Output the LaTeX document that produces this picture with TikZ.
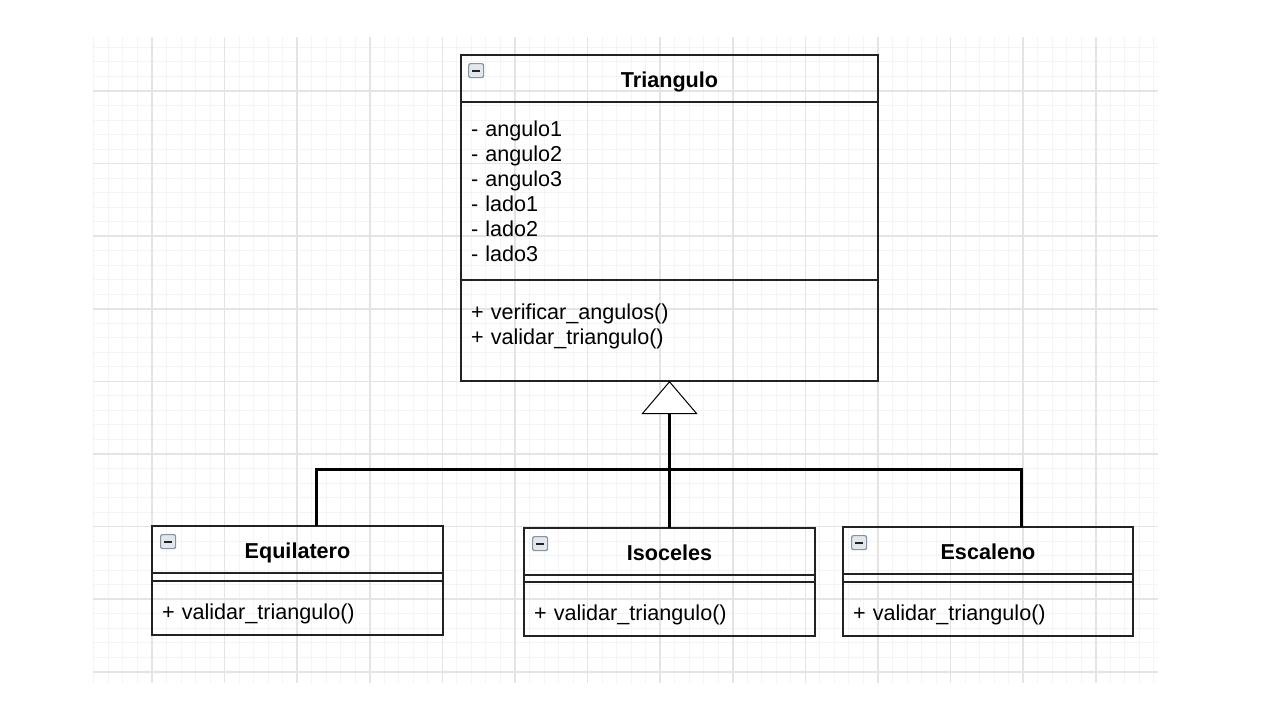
\documentclass[tikz,border=0pt]{standalone}
\usepackage{fontspec}
\setmainfont{Liberation Sans}
\usepackage{tikz}
\usetikzlibrary{positioning,arrows.meta}
\definecolor{gridminor}{HTML}{F4F4F4}
\definecolor{gridmajor}{HTML}{E4E4E4}
\definecolor{umlline}{HTML}{222222}
\definecolor{iconfill}{HTML}{E2E7EE}
\definecolor{iconline}{HTML}{8592A0}

\begin{document}
\begin{tikzpicture}[x=1pt, y=-1pt, node distance=0pt, font=\fontsize{21.6}{25}\selectfont,
  head/.style={rectangle, draw=umlline, line width=2pt, outer sep=0pt, inner sep=0pt, minimum height=47pt, anchor=north west, text height=22pt, text depth=4pt, font=\fontsize{21.6}{25}\selectfont\bfseries},
  sect/.style={rectangle, draw=umlline, line width=2pt, outer sep=0pt, inner xsep=10pt, inner ysep=0pt, align=left},
  wide/.style={minimum width=417pt, text width=397pt},
  narrow/.style={minimum width=291pt, text width=271pt},
  icon/.style={rectangle, rounded corners=2pt, draw=iconline, fill=iconfill, line width=1.2pt, inner sep=0pt, minimum width=15pt, minimum height=14pt, anchor=north west,
    path picture={\draw[umlline, line width=2pt] ([xshift=3.5pt]path picture bounding box.west) -- ([xshift=-3.5pt]path picture bounding box.east);}},
  link/.style={draw=black, line width=3pt},
  gen/.style={link, -{Triangle[fill=white, length=33pt, width=56pt, line width=1pt]}}]

  \useasboundingbox[fill=white] (0,0) rectangle (1280,720);

  % grid
  \begin{scope}
    \clip (93,37) rectangle (1158,683);
    \foreach \i in {0,...,75} \draw[gridminor, line width=1pt] ({79.4+\i*14.52},37) -- ({79.4+\i*14.52},683);
    \foreach \i in {0,...,46} \draw[gridminor, line width=1pt] (93,{18.4+\i*14.52}) -- (1158,{18.4+\i*14.52});
    \foreach \j in {0,...,15} \draw[gridmajor, line width=1.5pt] ({79.4+\j*72.6},37) -- ({79.4+\j*72.6},683);
    \foreach \j in {0,...,9} \draw[gridmajor, line width=1.5pt] (93,{18.4+\j*72.6}) -- (1158,{18.4+\j*72.6});
  \end{scope}

  % superclass
  \node[head, minimum width=417pt] (tri) at (461,55) {Triangulo};
  \node[icon] (tri-icon) at ([shift={(7,8)}]tri.north west) {};
  \node[sect, wide, minimum height=178pt, below=of tri] (tri-attr) {- angulo1\\- angulo2\\- angulo3\\- lado1\\- lado2\\- lado3};
  \node[sect, wide, minimum height=101pt, text depth=38pt, below=of tri-attr] (tri-meth) {+ verificar\_angulos()\\+ validar\_triangulo()};

  % subclasses
  \node[head, minimum width=291pt] (equi) at (152,526) {Equilatero};
  \node[icon] (equi-icon) at ([shift={(8,8)}]equi.north west) {};
  \node[sect, narrow, minimum height=8pt, below=of equi] (equi-attr) {};
  \node[sect, narrow, minimum height=54pt, text height=27pt, text depth=4pt, below=of equi-attr] (equi-meth) {+ validar\_triangulo()};

  \node[head, minimum width=291pt] (iso) at (524,528) {Isoceles};
  \node[icon] (iso-icon) at ([shift={(8,8)}]iso.north west) {};
  \node[sect, narrow, minimum height=7pt, below=of iso] (iso-attr) {};
  \node[sect, narrow, minimum height=54pt, text height=27pt, text depth=4pt, below=of iso-attr] (iso-meth) {+ validar\_triangulo()};

  \node[head, minimum width=290pt] (esca) at (843,527) {Escaleno};
  \node[icon] (esca-icon) at ([shift={(8,8)}]esca.north west) {};
  \node[sect, narrow, minimum width=290pt, text width=270pt, minimum height=8pt, below=of esca] (esca-attr) {};
  \node[sect, narrow, minimum width=290pt, text width=270pt, minimum height=54pt, text height=27pt, text depth=4pt, below=of esca-attr] (esca-meth) {+ validar\_triangulo()};

  % generalization
  \coordinate (join) at (tri-meth.south |- 0,469);
  \draw[gen] (join) -- (tri-meth.south);
  \draw[link] (join) -| ([xshift=18.5pt]equi.north);
  \draw[link] (join) -- (iso.north);
  \draw[link] (join) -| ([xshift=33.5pt]esca.north);
\end{tikzpicture}
\end{document}
